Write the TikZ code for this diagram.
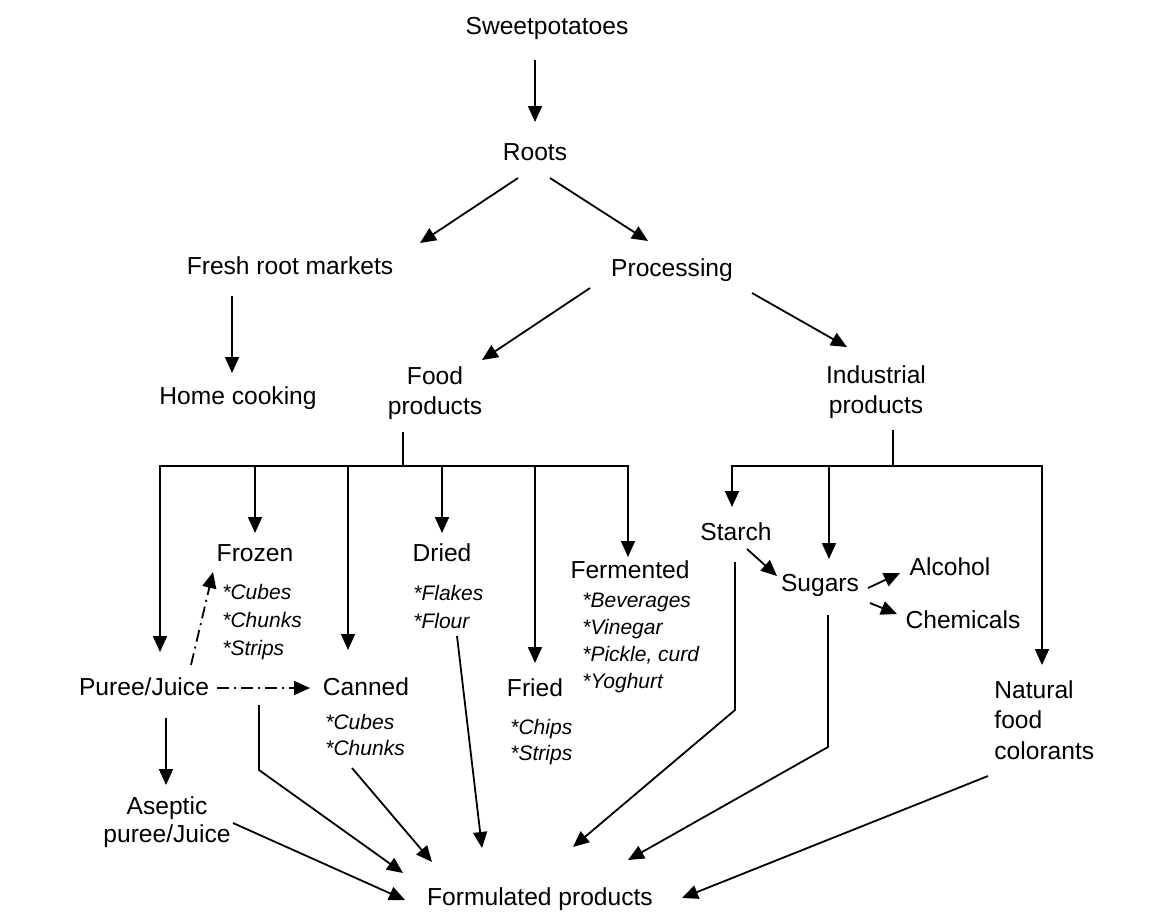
\documentclass[tikz,border=0pt]{standalone}
\usepackage{fontspec}
\setmainfont{Liberation Sans}
\usetikzlibrary{arrows.meta,calc}

\begin{document}
\begin{tikzpicture}[x=0.5pt,y=-0.5pt,
	txt/.style={inner sep=0pt, font=\fontsize{12.3}{15}\selectfont},
	lst/.style={inner sep=0pt, align=left, anchor=north west, font=\fontsize{10.5}{14}\selectfont\itshape},
	arr/.style={-{Triangle[length=8pt,width=7pt]}, line width=0.9pt},
	dashdot/.style={arr, dash pattern=on 6pt off 2.5pt on 1pt off 2.5pt}]

				\useasboundingbox (0,0) rectangle (1156,912);

				\node [txt] (sweet) at (547,28) {Sweetpotatoes};
				\node [txt] (roots) at (535,152) {Roots};
				\node [txt] (fresh) at (290,266) {Fresh root markets};
				\node [txt] (proc) at (672,270) {Processing};
				\node [txt] (home) at (238,398) {Home cooking};
				\node [txt, align=center, anchor=north] (food) at (435,366) {Food\\products};
				\node [txt, align=center, anchor=north] (ind) at (876,365) {Industrial\\products};

				\node [txt] (frozen) at (255,553) {Frozen};
				\node [lst] (frozenlist) at (222,584) {*Cubes\\*Chunks\\*Strips};
				\node [txt] (dried) at (442,553) {Dried};
				\node [lst] (driedlist) at (413,585) {*Flakes\\*Flour};
				\node [txt] (ferm) at (630,570) {Fermented};
				\node [lst, font=\fontsize{10.5}{13.5}\selectfont\itshape] (fermlist) at (582,593) {*Beverages\\*Vinegar\\*Pickle, curd\\*Yoghurt};
				\node [txt] (fried) at (535,688) {Fried};
				\node [lst, font=\fontsize{10.5}{13}\selectfont\itshape] (friedlist) at (510,719) {*Chips\\*Strips};
				\node [txt] (puree) at (144,687) {Puree/Juice};
				\node [txt] (canned) at (366,687) {Canned};
				\node [lst, font=\fontsize{10.5}{13}\selectfont\itshape] (cannedlist) at (325,714) {*Cubes\\*Chunks};
				\node [txt, align=center, anchor=north, font=\fontsize{12.3}{14}\selectfont] (aseptic) at (167,796) {Aseptic\\puree/Juice};
				\node [txt] (formulated) at (540,899) {Formulated products};

				\node [txt] (starch) at (736,532) {Starch};
				\node [txt] (sugars) at (820,585) {Sugars};
				\node [txt] (alcohol) at (950,567) {Alcohol};
				\node [txt] (chem) at (963,620) {Chemicals};
				\node [txt, align=left, anchor=north west, font=\fontsize{12.3}{15.3}\selectfont] (natural) at (994,680) {Natural\\food\\colorants};

				\draw [arr] ($(sweet)+(-12,32)$) -- ($(roots)+(0,-30)$);
				\draw [arr] ($(roots)+(-17,26)$) -- ($(fresh)+(130,-23)$);
				\draw [arr] ($(roots)+(15,26)$) -- ($(proc)+(-24,-29)$);
				\draw [arr] ($(fresh)+(-58,30)$) -- ($(home)+(-6,-25)$);
				\draw [arr] ($(proc)+(-82,18)$) -- ($(food.north)+(47,-6)$);
				\draw [arr] ($(proc)+(80,23)$) -- ($(ind.north)+(-29,-18)$);

				\draw [line width=0.9pt] ($(food.north)+(-32,66)$) -- ++(0,34) coordinate (fbus);
				\draw [arr] (fbus) -| ($(puree)+(16,-35)$);
				\draw [arr] (fbus) -| ($(frozen)+(0,-20)$);
				\draw [arr] (fbus) -| ($(canned)+(-18,-37)$);
				\draw [arr] (fbus) -| ($(dried)+(0,-20)$);
				\draw [arr] (fbus) -| ($(fried)+(0,-25)$);
				\draw [arr] (fbus) -| ($(ferm)+(-2,-13)$);

				\draw [line width=0.9pt] ($(ind.north)+(17,65)$) -- ++(0,36) coordinate (ibus);
				\draw [arr] (ibus) -| ($(starch)+(-4,-25)$);
				\draw [arr] (ibus) -| ($(sugars)+(9,-26)$);
				\draw [arr] (ibus) -| ($(natural.north west)+(48,-15)$);

				\draw [dashdot] ($(puree)+(47,-22)$) -- ($(frozen)+(-42,19)$);
				\draw [dashdot] ($(puree)+(73,1)$) -- ($(canned)+(-56,1)$);
				\draw [arr] ($(puree)+(22,31)$) -- ($(aseptic.north)+(-1,-11)$);

				\draw [arr] ($(starch)+(11,17)$) -- ($(sugars)+(-43,-9)$);
				\draw [arr] ($(sugars)+(48,3)$) -- ($(alcohol)+(-50,6)$);
				\draw [arr] ($(sugars)+(50,18)$) -- ($(chem)+(-66,-6)$);

				\draw [arr] ($(aseptic.north)+(66,27)$) -- ($(formulated)+(-135,1)$);
				\draw [arr] ($(puree)+(115,18)$) -- ++(0,65) -- ($(formulated)+(-137,-26)$);
				\draw [arr] ($(canned)+(-14,81)$) -- ($(formulated)+(-108,-37)$);
				\draw [arr] ($(dried)+(15,83)$) -- ($(formulated)+(-58,-51)$);
				\draw [arr] ($(starch)+(-1,30)$) -- ++(0,148) -- ($(formulated)+(33,-52)$);
				\draw [arr] ($(sugars)+(8,30)$) -- ++(0,132) -- ($(formulated)+(88,-39)$);
				\draw [arr] ($(natural.north west)+(-6,96)$) -- ($(formulated)+(142,-1)$);

				\end{tikzpicture}
\end{document}
